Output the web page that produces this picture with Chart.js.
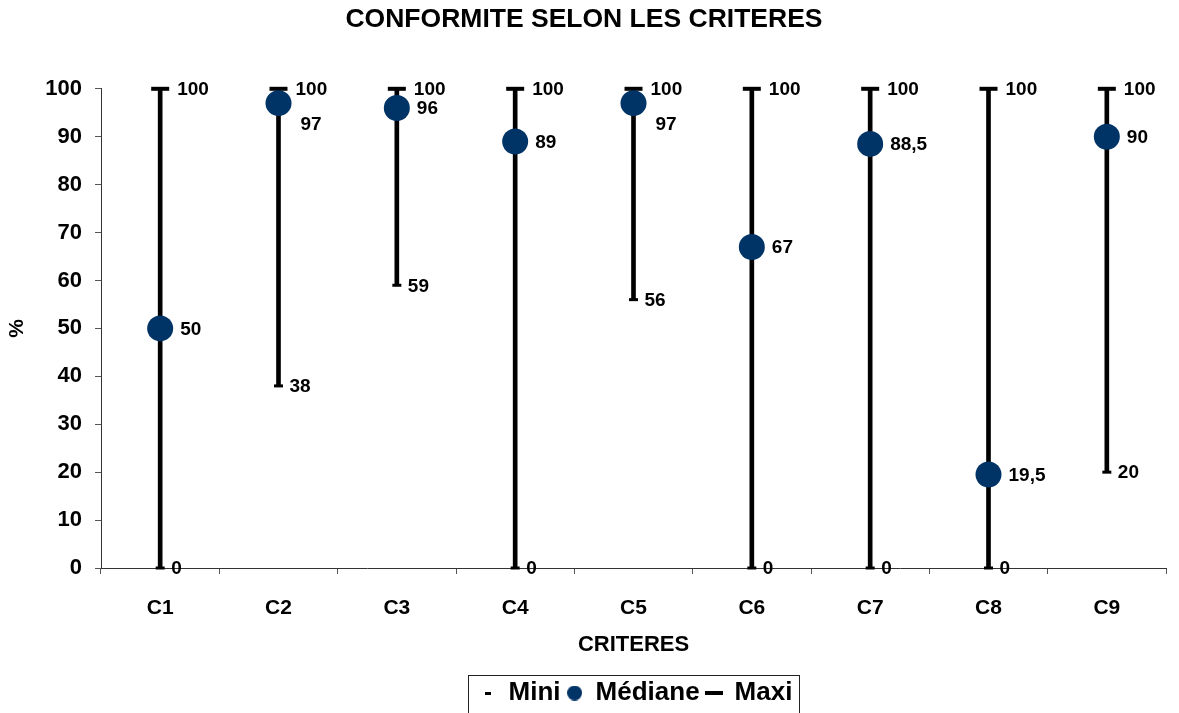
<!DOCTYPE html>
<html><head><meta charset="utf-8">
<script src="https://cdn.jsdelivr.net/npm/chart.js@4"></script>
<style>html,body{margin:0;padding:0;background:#fff}#wrap{width:1179px;height:713px;position:relative}</style>
</head><body><div id="wrap"><canvas id="c"></canvas></div>
<script>
const categories = ['C1', 'C2', 'C3', 'C4', 'C5', 'C6', 'C7', 'C8', 'C9'];
const miniValues = [0, 38, 59, 0, 56, 0, 0, 0, 20];
const medianeValues = [50, 97, 96, 89, 97, 67, 88.5, 19.5, 90];
const maxiValues = [100, 100, 100, 100, 100, 100, 100, 100, 100];
const yTickValues = [0, 10, 20, 30, 40, 50, 60, 70, 80, 90, 100];
const seriesNames = ['Mini', 'Médiane', 'Maxi'];

const FONT = '"Liberation Sans", Arial, sans-serif';
const NAVY = '#003366';
const LEGEND_SHIFT_X = 52;
const LEGEND_SHIFT_Y = 3;
const fmt = v => String(v).replace('.', ',');

function marker(w, h, kind) {
  const c = document.createElement('canvas');
  c.width = w; c.height = h;
  const x = c.getContext('2d');
  if (kind === 'circle') {
    x.fillStyle = NAVY;
    x.beginPath(); x.arc(w / 2, h / 2, w / 2, 0, Math.PI * 2); x.fill();
  } else {
    x.fillStyle = '#000';
    x.fillRect(0, 0, w, h);
  }
  return c;
}
const legendMarkers = [marker(6, 3, 'rect'), marker(15, 15, 'circle'), marker(18, 4, 'rect')];

const valueLabels = {
  id: 'valueLabels',
  afterDatasetsDraw(chart) {
    const ctx = chart.ctx;
    const mMin = chart.getDatasetMeta(1), mMed = chart.getDatasetMeta(2), mMax = chart.getDatasetMeta(3);
    ctx.save();
    ctx.font = 'bold 19px ' + FONT;
    ctx.fillStyle = '#000';
    ctx.textAlign = 'left';
    ctx.textBaseline = 'middle';
    categories.forEach((c, i) => {
      const pMax = mMax.data[i], pMin = mMin.data[i], pMed = mMed.data[i];
      ctx.fillText(fmt(maxiValues[i]), pMax.x + 17, pMax.y + 1);
      ctx.fillText(fmt(miniValues[i]), pMin.x + 11, pMin.y + 1);
      let dx = 20, dy = 1;
      if (pMed.y - pMax.y < 16) { dx = 22; dy = 22; }
      ctx.fillText(fmt(medianeValues[i]), pMed.x + dx, pMed.y + dy);
    });
    ctx.restore();
  }
};

const legendPlacement = {
  id: 'legendPlacement',
  afterUpdate(chart) {
    const lg = chart.legend;
    if (!lg) return;
    lg.left += LEGEND_SHIFT_X;
    lg.right += LEGEND_SHIFT_X;
    lg.top += LEGEND_SHIFT_Y;
    lg.bottom += LEGEND_SHIFT_Y;
    (lg.legendHitBoxes || []).forEach(b => { b.left += LEGEND_SHIFT_X; b.top += LEGEND_SHIFT_Y; });
  },
  afterDraw(chart) {
    const hb = chart.legend && chart.legend.legendHitBoxes;
    if (!hb || !hb.length) return;
    const left = Math.min(...hb.map(b => b.left)) - 12;
    const right = Math.max(...hb.map(b => b.left + b.width)) + 6;
    const top = Math.min(...hb.map(b => b.top)) - 5;
    const ctx = chart.ctx;
    ctx.save();
    ctx.strokeStyle = '#222';
    ctx.lineWidth = 1;
    ctx.strokeRect(Math.round(left) + 0.5, Math.round(top) + 0.5, Math.round(right - left), 60);
    ctx.restore();
  }
};

new Chart(document.getElementById('c'), {
  type: 'bar',
  data: {
    labels: categories,
    datasets: [
      {
        label: 'range',
        data: categories.map((c, i) => [miniValues[i], maxiValues[i]]),
        backgroundColor: '#000',
        borderWidth: 0,
        barThickness: 4,
        order: 3,
        clip: false
      },
      {
        type: 'line', label: seriesNames[0], data: miniValues,
        showLine: false, pointStyle: 'line', pointRadius: 4.5, pointBorderWidth: 3,
        pointBorderColor: '#000', borderColor: '#000', order: 1, clip: false
      },
      {
        type: 'line', label: seriesNames[1], data: medianeValues,
        showLine: false, pointStyle: 'circle', pointRadius: 13, pointBorderWidth: 0,
        pointBackgroundColor: NAVY, backgroundColor: NAVY, borderColor: NAVY, order: 0, clip: false
      },
      {
        type: 'line', label: seriesNames[2], data: maxiValues,
        showLine: false, pointStyle: 'line', pointRadius: 9, pointBorderWidth: 4,
        pointBorderColor: '#000', borderColor: '#000', order: 1, clip: false
      }
    ]
  },
  options: {
    responsive: true,
    maintainAspectRatio: false,
    animation: false,
    layout: { padding: { left: 0, right: 11, top: 0, bottom: 0 } },
    plugins: {
      tooltip: { enabled: false },
      title: {
        display: true,
        text: 'CONFORMITE SELON LES CRITERES',
        color: '#000',
        font: { family: FONT, size: 26.5, weight: 'bold' },
        padding: { top: 4, bottom: 53 }
      },
      legend: {
        display: true,
        position: 'bottom',
        labels: {
          usePointStyle: true,
          boxWidth: 16,
          padding: 6,
          color: '#000',
          font: { family: FONT, size: 26, weight: 'bold' },
          generateLabels: () => seriesNames.map((name, k) => ({
            text: name,
            pointStyle: legendMarkers[k],
            fillStyle: k === 1 ? NAVY : '#000',
            strokeStyle: k === 1 ? NAVY : '#000',
            lineWidth: 0,
            hidden: false,
            datasetIndex: k + 1,
            fontColor: '#000'
          }))
        }
      }
    },
    scales: {
      x: {
        offset: true,
        grid: { display: true, drawOnChartArea: false, offset: true, tickLength: 6, color: '#555' },
        border: { display: true, color: '#333', width: 1 },
        ticks: { color: '#000', padding: 22, font: { family: FONT, size: 21, weight: 'bold' } },
        title: {
          display: true, text: 'CRITERES', color: '#000',
          font: { family: FONT, size: 22, weight: 'bold' },
          padding: { top: 0, bottom: 13 }
        },
        afterFit: s => { s.height = 103; }
      },
      y: {
        min: 0, max: 100,
        afterBuildTicks: s => { s.ticks = yTickValues.map(v => ({ value: v })); },
        grid: { display: true, drawOnChartArea: false, tickLength: 6, color: '#555' },
        border: { display: true, color: '#333', width: 1 },
        ticks: { color: '#000', padding: 13, font: { family: FONT, size: 22, weight: 'bold' } },
        title: {
          display: true, text: '%', color: '#000',
          font: { family: FONT, size: 21, weight: 'bold' },
          padding: { top: 5, bottom: 0 }
        },
        afterFit: s => { s.width = 101; }
      }
    }
  },
  plugins: [valueLabels, legendPlacement]
});
</script>
</body></html>
